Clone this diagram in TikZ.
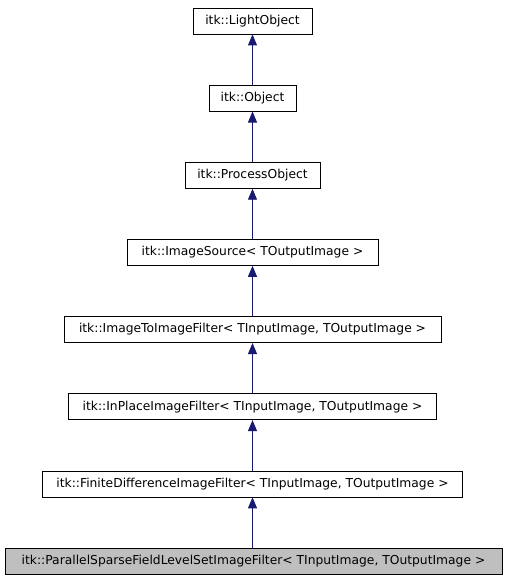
\documentclass[tikz,border=0pt]{standalone}
\usepackage{fontspec}
\setmainfont{DejaVu Sans}
\usetikzlibrary{arrows.meta}
\definecolor{edgeblue}{HTML}{191970}
\begin{document}
\begin{tikzpicture}[x=1pt,y=-1pt,
  cls/.style={draw=black,line width=0.8pt,fill=white,minimum height=26pt,inner sep=0pt,font=\fontsize{12.3}{14}\selectfont,anchor=center},
  cur/.style={cls,fill=black!25},
  inh/.style={draw=edgeblue,line width=0.9pt,-{Triangle[length=11pt,width=9pt,fill=edgeblue]}}]
\useasboundingbox (0,0) rectangle (507,581);
\node[cls,minimum width=119pt] (lo) at (252.5,21) {itk::LightObject};
\node[cls,minimum width=87pt] (ob) at (252.5,98.1) {itk::Object};
\node[cls,minimum width=135pt] (po) at (252.5,175.3) {itk::ProcessObject};
\node[cls,minimum width=251pt] (is) at (252.5,252.4) {itk::ImageSource< TOutputImage >};
\node[cls,minimum width=377pt] (iti) at (252.5,329.6) {itk::ImageToImageFilter< TInputImage, TOutputImage >};
\node[cls,minimum width=368pt] (ip) at (252.5,406.7) {itk::InPlaceImageFilter< TInputImage, TOutputImage >};
\node[cls,minimum width=420pt] (fd) at (252.5,483.9) {itk::FiniteDifferenceImageFilter< TInputImage, TOutputImage >};
\node[cur,minimum width=497pt] (ps) at (253.5,561) {itk::ParallelSparseFieldLevelSetImageFilter< TInputImage, TOutputImage >};
\draw[inh] (ob) -- (lo);
\draw[inh] (po) -- (ob);
\draw[inh] (is) -- (po);
\draw[inh] (iti) -- (is);
\draw[inh] (ip) -- (iti);
\draw[inh] (fd) -- (ip);
\draw[inh] (ps.north -| fd.south) -- (fd);
\end{tikzpicture}
\end{document}
